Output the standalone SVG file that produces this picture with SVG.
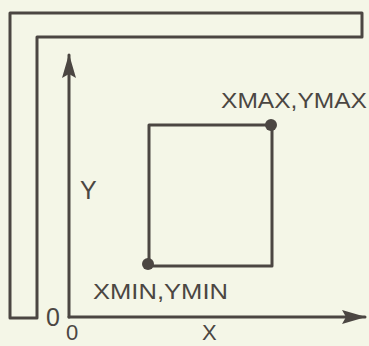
<svg xmlns="http://www.w3.org/2000/svg" width="369" height="346" viewBox="0 0 369 346">
<defs>
<style>
.ln{fill:none;stroke:#4b4642;stroke-width:3;stroke-linejoin:round;stroke-linecap:round}
.t{font-family:"Liberation Sans",Arial,sans-serif;font-size:22px;fill:#4b4642}
.dot{fill:#4b4642}
</style>
<marker id="ah" viewBox="0 0 24 14" refX="23" refY="7" markerWidth="24" markerHeight="14" markerUnits="userSpaceOnUse" orient="auto">
<path d="M0,0 L24,7 L0,14 L4,7 Z" fill="#4b4642"/>
</marker>
</defs>
<rect width="369" height="346" fill="#f4f6e7"/>
<g id="frame">
<path class="ln" d="M10,13 H362 V37 H37 V318 H10 Z"/>
</g>
<g id="connectors">
<line class="ln" x1="69" y1="317" x2="69" y2="55" marker-end="url(#ah)"/>
<line class="ln" x1="69" y1="317" x2="365" y2="317" marker-end="url(#ah)"/>
</g>
<g id="window">
<rect class="ln" x="149" y="125" width="123" height="141"/>
<circle class="dot" cx="271" cy="125" r="6"/>
<circle class="dot" cx="148" cy="264" r="6"/>
</g>
<g id="labels">
<text class="t" x="221" y="108" textLength="146" lengthAdjust="spacingAndGlyphs">XMAX,YMAX</text>
<text class="t" x="93" y="299" textLength="135" lengthAdjust="spacingAndGlyphs">XMIN,YMIN</text>
<text class="t" x="80" y="199" style="font-size:25px">Y</text>
<text class="t" x="46" y="326" style="font-size:25px">0</text>
<text class="t" x="66" y="340" style="font-size:22px">0</text>
<text class="t" x="202" y="340" style="font-size:22px">X</text>
</g>
</svg>
